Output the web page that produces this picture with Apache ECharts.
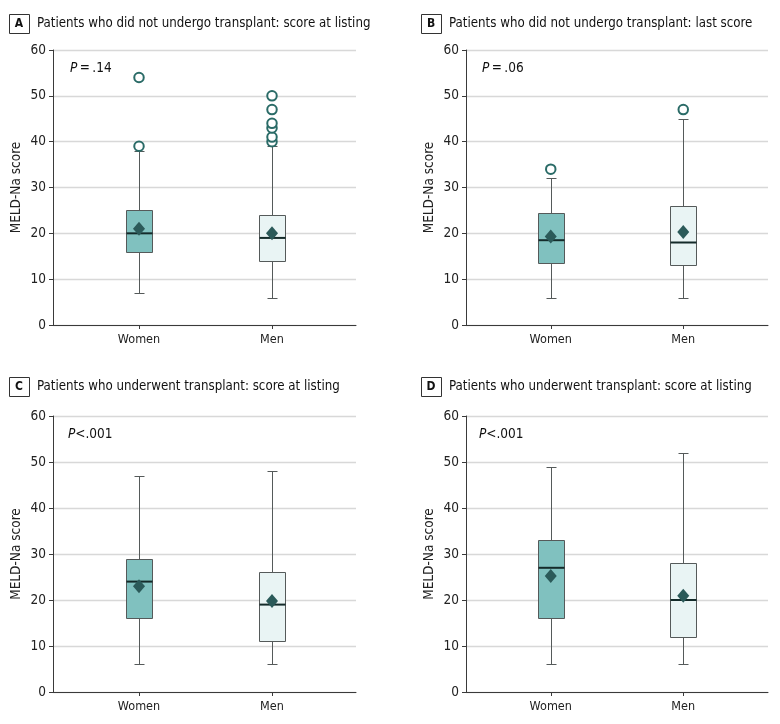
<!DOCTYPE html>
<html>
<head>
<meta charset="utf-8">
<script src="https://cdn.jsdelivr.net/npm/echarts@6/dist/echarts.min.js"></script>
<style>html,body{margin:0;padding:0;background:#fff}#c{width:780px;height:724px}</style>
</head>
<body>
<div id="c"></div>
<script>
// ---- data ----
const categories = ['Women', 'Men'];
const yMin = 0, yMax = 60, yInterval = 10;

// box stats: [low whisker, Q1, median, Q3, high whisker]
const boxA = [[7, 16, 20, 25, 38], [6, 14, 19, 24, 39]];
const meanA = [21, 20];
const outliersWomenA = [39, 54];
const outliersMenA = [40, 41, 43, 44, 47, 50];

const boxB = [[6, 13.5, 18.5, 24.5, 32], [6, 13, 18, 26, 45]];
const meanB = [19.3, 20.3];
const outliersWomenB = [34];
const outliersMenB = [47];

const boxC = [[6, 16, 24, 29, 47], [6, 11, 19, 26, 48]];
const meanC = [23, 19.8];
const outliersWomenC = [];
const outliersMenC = [];

const boxD = [[6, 16, 27, 33, 49], [6, 12, 20, 28, 52]];
const meanD = [25.2, 20.9];
const outliersWomenD = [];
const outliersMenD = [];

const panelLetters = ['A', 'B', 'C', 'D'];
const panelTitles = [
  'Patients who did not undergo transplant: score at listing',
  'Patients who did not undergo transplant: last score',
  'Patients who underwent transplant: score at listing',
  'Patients who underwent transplant: score at listing'
];
const pLabels = ['\u2009=\u2009.14', '\u2009=\u2009.06', '<.001', '<.001'];
const yAxisName = 'MELD-Na score';

// ---- styling / layout ----
const FONT = "'DejaVu Sans Condensed', 'DejaVu Sans', sans-serif";
const boxFills = ['#80c1bf', '#e9f4f4'];
const boxStroke = '#555a5a';
const medianColor = '#142b2a';
const meanColor = '#2b5a59';
const outlierColor = '#2a6b67';
const axisColor = '#3a3a3a';

const layouts = [
  { frameLeft: 53, frameWidth: 303, top: 50, height: 275, plotLeft: 72.5, plotWidth: 266, tx: 9, ty: 14, pX: 70, pY: 68 },
  { frameLeft: 466, frameWidth: 302, top: 50, height: 275, plotLeft: 484.5, plotWidth: 265, tx: 421, ty: 14, pX: 482, pY: 68 },
  { frameLeft: 53, frameWidth: 303, top: 416, height: 276, plotLeft: 72.5, plotWidth: 266, tx: 9, ty: 377, pX: 68, pY: 434 },
  { frameLeft: 466, frameWidth: 302, top: 416, height: 276, plotLeft: 484.5, plotWidth: 265, tx: 421, ty: 377, pX: 479, pY: 434 }
];

const panels = [
  { box: boxA, mean: meanA, out: [outliersWomenA, outliersMenA] },
  { box: boxB, mean: meanB, out: [outliersWomenB, outliersMenB] },
  { box: boxC, mean: meanC, out: [outliersWomenC, outliersMenC] },
  { box: boxD, mean: meanD, out: [outliersWomenD, outliersMenD] }
];

function renderBox(params, api) {
  const c = api.value(0);
  const p = [1, 2, 3, 4, 5].map(d => api.coord([c, api.value(d)]));
  const cx = Math.round(p[0][0]) + 0.5;
  const hw = 13, cw = 5;
  const ln = (x1, y1, x2, y2, stroke, w) => ({ type: 'line', shape: { x1, y1, x2, y2 }, style: { stroke, lineWidth: w } });
  const yr = v => Math.round(v) + 0.5;
  return {
    type: 'group',
    children: [
      ln(cx, yr(p[0][1]), cx, yr(p[1][1]), boxStroke, 1),
      ln(cx, yr(p[3][1]), cx, yr(p[4][1]), boxStroke, 1),
      ln(cx - cw, yr(p[0][1]), cx + cw, yr(p[0][1]), boxStroke, 1),
      ln(cx - cw, yr(p[4][1]), cx + cw, yr(p[4][1]), boxStroke, 1),
      { type: 'rect', shape: { x: cx - hw, y: yr(p[3][1]), width: 2 * hw, height: yr(p[1][1]) - yr(p[3][1]) },
        style: { fill: boxFills[c], stroke: boxStroke, lineWidth: 1 } },
      ln(cx - hw, p[2][1], cx + hw, p[2][1], medianColor, 2)
    ]
  };
}

const grid = [], xAxis = [], yAxis = [], series = [], graphic = [];
panels.forEach((pd, i) => {
  const L = layouts[i];
  const fi = 2 * i, pi = 2 * i + 1;
  grid.push({ left: L.frameLeft, top: L.top, width: L.frameWidth, height: L.height });
  grid.push({ left: L.plotLeft, top: L.top, width: L.plotWidth, height: L.height });
  xAxis.push({ gridIndex: fi, type: 'value', min: 0, max: 1, axisLine: { show: true, onZero: false, lineStyle: { color: axisColor, width: 1 } },
    axisTick: { show: false }, axisLabel: { show: false }, splitLine: { show: false } });
  xAxis.push({ gridIndex: pi, type: 'category', data: categories, boundaryGap: true,
    axisLine: { show: false }, axisTick: { show: true, alignWithLabel: true, length: 4, lineStyle: { color: axisColor } },
    axisLabel: { fontSize: 12.5, color: '#222', margin: 8, fontFamily: FONT }, splitLine: { show: false } });
  yAxis.push({ gridIndex: fi, type: 'value', min: yMin, max: yMax, interval: yInterval,
    name: yAxisName, nameLocation: 'middle', nameGap: 30, nameRotate: 90,
    nameTextStyle: { fontSize: 13.5, color: '#222', fontFamily: FONT },
    axisLine: { show: true, lineStyle: { color: axisColor } }, axisTick: { show: true, length: 4, lineStyle: { color: axisColor } },
    axisLabel: { fontSize: 13.5, color: '#222', margin: 7, fontFamily: FONT },
    splitLine: { show: true, lineStyle: { color: '#d8d8d8', width: 1.3 } } });
  yAxis.push({ gridIndex: pi, type: 'value', min: yMin, max: yMax, show: false });

  series.push({
    type: 'custom', xAxisIndex: pi, yAxisIndex: pi, z: 3,
    renderItem: renderBox,
    encode: { x: 0, y: [1, 2, 3, 4, 5] },
    data: pd.box.map((b, k) => [k].concat(b))
  });
  series.push({
    type: 'scatter', xAxisIndex: pi, yAxisIndex: pi, z: 5,
    symbol: 'diamond', symbolSize: [12, 14],
    itemStyle: { color: meanColor, opacity: 1 },
    data: pd.mean.map((m, k) => [k, m])
  });
  const outData = [];
  pd.out.forEach((arr, k) => arr.forEach(v => outData.push([k, v])));
  series.push({
    type: 'scatter', xAxisIndex: pi, yAxisIndex: pi, z: 5,
    symbol: 'circle', symbolSize: 9.5,
    itemStyle: { color: '#fff', borderColor: outlierColor, borderWidth: 2, opacity: 1 },
    data: outData
  });

  graphic.push({ type: 'rect', left: L.tx, top: L.ty, shape: { width: 20, height: 19 },
    style: { fill: '#fff', stroke: '#333', lineWidth: 1 } });
  graphic.push({ type: 'text', x: L.tx + 10, y: L.ty + 10,
    style: { text: panelLetters[i], font: "bold 12px " + FONT, fill: '#111', align: 'center', verticalAlign: 'middle' } });
  graphic.push({ type: 'text', x: L.tx + 28, y: L.ty + 10,
    style: { text: panelTitles[i], font: "13.2px " + FONT, fill: '#111', align: 'left', verticalAlign: 'middle' } });
  graphic.push({ type: 'text', x: L.pX, y: L.pY,
    style: { text: '{i|P}' + pLabels[i], font: "13.5px " + FONT, fill: '#111', align: 'left', verticalAlign: 'middle',
      rich: { i: { fontStyle: 'italic', fontSize: 13.5, fontFamily: FONT, fill: '#111' } } } });
});

const chart = echarts.init(document.getElementById('c'), null, { renderer: 'canvas' });
chart.setOption({
  animation: false,
  backgroundColor: '#fff',
  textStyle: { fontFamily: FONT },
  grid, xAxis, yAxis, series, graphic
});
</script>
</body>
</html>
